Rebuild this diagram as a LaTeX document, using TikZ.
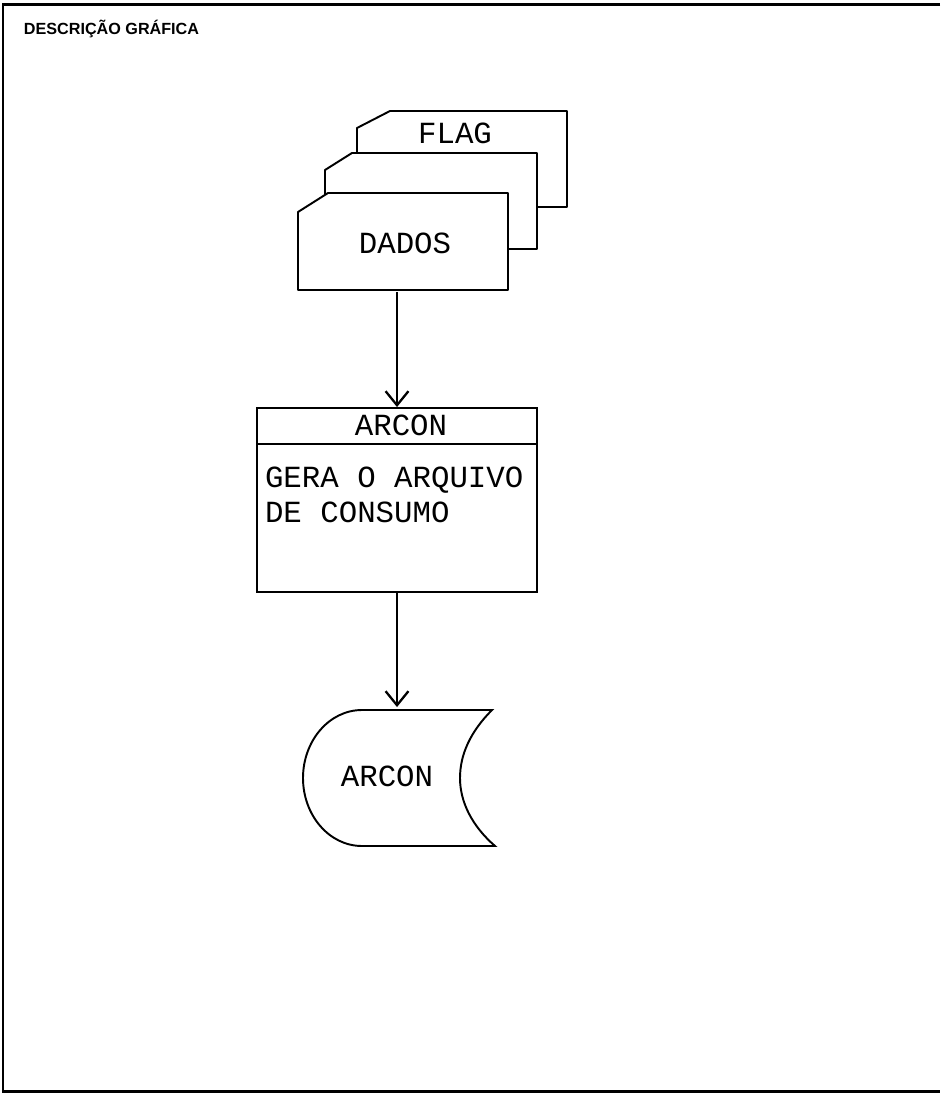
\documentclass[tikz,border=0pt]{standalone}
\usepackage{fontspec}
\setmonofont{Liberation Mono}
\newfontfamily\headfont{Liberation Sans}
\usetikzlibrary{arrows.meta,positioning}

\begin{document}
\begin{tikzpicture}[x=0.02cm,y=-0.02cm,>={Straight Barb[length=8pt,width=13pt,line width=1.3pt]},line width=1.1pt,
  card/.style={draw,fill=white,line join=round},
  lbl/.style={inner sep=0pt,font=\ttfamily\fontsize{17.5}{20.2}\selectfont},
  box/.style={minimum width=5.6cm,inner sep=0pt,font=\ttfamily\fontsize{17.5}{20.2}\selectfont}]
\useasboundingbox (0,0) rectangle (940,1094);
\draw[line width=1.7pt] (940,5) -- (3,5) -- (3,1091) -- (940,1091);
\node[anchor=west,inner sep=0pt,font=\headfont\bfseries\fontsize{9.2}{11}\selectfont] (titulo) at (23,29) {DESCRIÇÃO GRÁFICA};
\draw[card] (357,128) -- (390,111) -- (567,111) -- (567,207) -- (357,207) -- cycle;
\draw[card] (325,170) -- (352,153) -- (537,153) -- (537,249) -- (325,249) -- cycle;
\draw[card] (298,212) -- (328,193) -- (508,193) -- (508,290) -- (298,290) -- cycle;
\node[lbl] (flag) at (455,133) {FLAG};
\node[lbl,minimum width=4.2cm,minimum height=1.94cm] (dados) at (405,243) {DADOS};
\node[box,draw,minimum height=3.68cm] (arcon) at (397,500) {};
\node[box,minimum height=0.7cm,anchor=north,xshift=0.08cm] (arconhd) at (arcon.north) {ARCON};
\draw (arcon.west |- arconhd.south) -- (arcon.east |- arconhd.south);
\node[lbl,align=left,below right=0.47cm and 0.16cm of arcon.north west,yshift=-0.7cm] (arcontxt) {GERA O ARQUIVO\\DE CONSUMO};
\draw (362,710) -- (492,710) .. controls (470,732) and (460,755) .. (460,778) .. controls (460,802) and (472,826) .. (495,846) -- (362,846) .. controls (329,846) and (303,815) .. (303,778) .. controls (303,741) and (329,710) .. (362,710) -- cycle;
\node[lbl,minimum height=2.72cm] (arq) at (387,776) {ARCON};
\draw[->] (dados.south -| arcon.north) -- (arcon.north);
\draw[->] (arcon.south) -- (arcon.south |- arq.north);
\end{tikzpicture}
\end{document}
